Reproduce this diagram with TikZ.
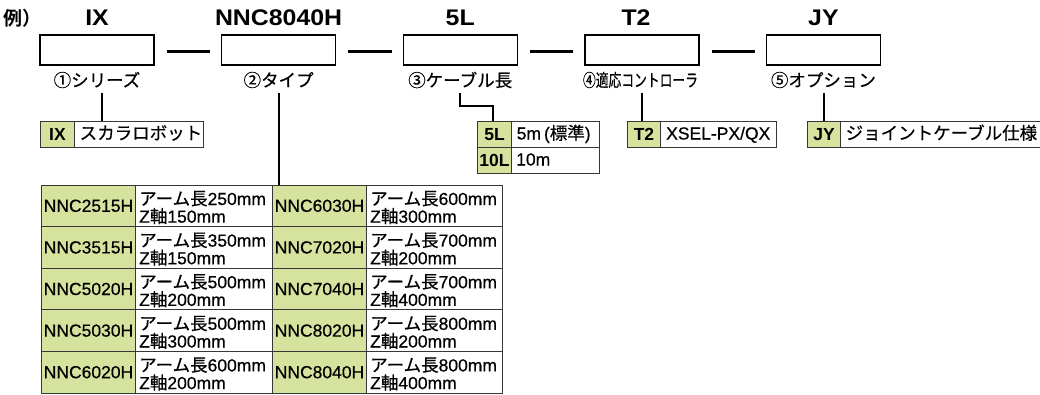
\documentclass[tikz,border=0pt]{standalone}
\usepackage{fontspec}
\setmainfont{Liberation Sans}[UprightFeatures={FakeBold=0.5}]
\newfontfamily\jpfont{Noto Sans CJK JP}[UprightFeatures={FakeBold=0.5}]
\newfontfamily\jpbold{Noto Sans CJK JP Bold}
\newfontfamily\hdrfont[FakeStretch=1.1]{Liberation Sans}
\newcommand\J[1]{{\jpfont #1}}
\newcommand\tf{\fontsize{17.5}{17.7}\selectfont}
\definecolor{codegreen}{RGB}{213,227,158}
\definecolor{bordergray}{RGB}{55,55,55}
\begin{document}
\begin{tikzpicture}[x=1pt,y=-1pt,
  topbox/.style={draw=black, line width=1.4pt, minimum width=114pt, minimum height=30pt, inner sep=0},
  joinline/.style={line width=2.6pt},
  conn/.style={line width=1.2pt},
  hdr/.style={font=\hdrfont\bfseries\fontsize{22.6}{24}\selectfont, inner sep=0},
  lbl/.style={font=\jpfont\fontsize{17.5}{18}\selectfont, inner sep=0},
  codecell/.style={draw=bordergray, line width=1pt, fill=codegreen, inner sep=0, anchor=north west, font=\tf\bfseries},
  namecell/.style={draw=bordergray, line width=1pt, fill=white, inner sep=0, anchor=north west},
  celltext/.style={font=\tf, inner sep=0, anchor=base west},
]
\useasboundingbox (0,0) rectangle (1040,394);

% example mark
\node[font=\jpbold\fontsize{19}{20}\selectfont, inner sep=0] (ex) at (22.5,18.5) {例）};

% top boxes
\foreach \i/\cx/\h/\l in {1/97/IX/{①シリーズ},2/278.6/NNC8040H/{②タイプ},3/460.2/5L/{③ケーブル長},5/823.4/JY/{⑤オプション}}{
  \node[topbox] (b\i) at (\cx,50) {};
  \node[hdr] (h\i) at (\cx,18) {\h};
  \node[lbl] (l\i) at (\cx,80) {\l};
}
\node[topbox] (b4) at (641.8,50) {};
\node[hdr] (h4) at (636,18) {T2};
\node[lbl, xscale=0.73, transform shape] (l4) at (640.5,80) {④適応コントローラ};

\foreach \a/\b in {1/2,2/3,3/4,4/5}{
  \draw[joinline] ([xshift=12pt,yshift=-1.5pt]b\a.east) -- ([xshift=-11pt,yshift=-1.5pt]b\b.west);
}

% small tables
\node[codecell, minimum width=34pt, minimum height=26pt] (ixc) at (40,121) {IX};
\node[namecell, minimum width=129pt, minimum height=26pt] (ixn) at (74,121) {};
\node[celltext] (ixt) at (79.5,139.5) {\J{スカラロボット}};

\node[codecell, minimum width=34pt, minimum height=26pt] (c5l) at (477,121) {5L};
\node[namecell, minimum width=88pt, minimum height=26pt] (n5l) at (511,121) {};
\node[celltext] (t5l) at (516.5,139.5) {5m\hspace{3pt}(\J{標準})};
\node[codecell, minimum width=34pt, minimum height=26pt] (c10l) at (477,147) {10L};
\node[namecell, minimum width=88pt, minimum height=26pt] (n10l) at (511,147) {};
\node[celltext] (t10l) at (516,165.5) {10m};

\node[codecell, minimum width=33pt, minimum height=26pt] (ct2) at (627,121) {T2};
\node[namecell, minimum width=116pt, minimum height=26pt] (nt2) at (660,121) {};
\node[celltext] (tt2) at (666,139.5) {XSEL-PX/QX};

\node[codecell, minimum width=33pt, minimum height=26pt] (cjy) at (807,121) {JY};
\node[namecell, minimum width=215pt, minimum height=26pt] (njy) at (840,121) {};
\node[celltext] (tjy) at (845.5,139.5) {\J{ジョイントケーブル仕様}};

% big table
\foreach \r/\ca/\la/\za/\cb/\lb/\zb in {
  1/NNC2515H/250/150/NNC6030H/600/300,
  2/NNC3515H/350/150/NNC7020H/700/200,
  3/NNC5020H/500/200/NNC7040H/700/400,
  4/NNC5030H/500/300/NNC8020H/800/200,
  5/NNC6020H/600/200/NNC8040H/800/400}{
  \pgfmathsetmacro\yt{184.5+41.6*(\r-1)}
  \node[codecell, font=\tf, minimum width=94pt, minimum height=41.6pt] (ta\r) at (41,\yt) {\ca};
  \node[namecell, minimum width=137pt, minimum height=41.6pt] (da\r) at (135,\yt) {};
  \node[codecell, font=\tf, minimum width=94pt, minimum height=41.6pt] (tb\r) at (272,\yt) {\cb};
  \node[namecell, minimum width=136pt, minimum height=41.6pt] (db\r) at (366,\yt) {};
  \node[celltext] (da\r x) at (139,{\yt+20.5}) {\J{アーム長}\la mm};
  \node[celltext] (da\r y) at (139,{\yt+38.2}) {Z\J{軸}\za mm};
  \node[celltext] (db\r x) at (370,{\yt+20.5}) {\J{アーム長}\lb mm};
  \node[celltext] (db\r y) at (370,{\yt+38.2}) {Z\J{軸}\zb mm};
}

% connectors
\coordinate (k1) at (102,93);
\coordinate (k2) at (279,93);
\coordinate (k3) at (460,93);
\coordinate (k3m) at (493,106);
\coordinate (k4) at (642,93);
\coordinate (k5) at (824,93);
\draw[conn] (k1) -- (k1 |- ixn.north);
\draw[conn] (k2) -- (k2 |- da1.north);
\draw[conn] (k3) |- (k3m) -- (k3m |- c5l.north);
\draw[conn] (k4) -- (k4 |- ct2.north);
\draw[conn] (k5) -- (k5 |- cjy.north);
\end{tikzpicture}
\end{document}
